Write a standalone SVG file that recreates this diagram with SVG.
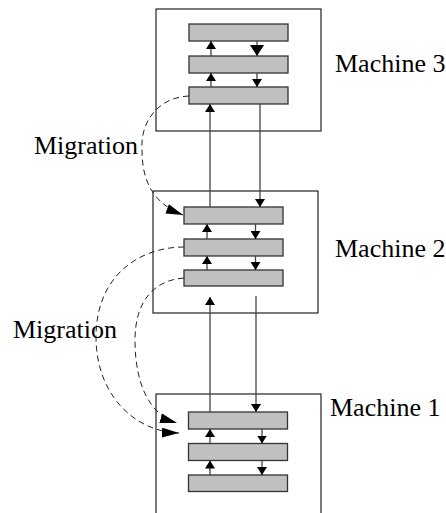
<svg xmlns="http://www.w3.org/2000/svg" width="446" height="513" viewBox="0 0 446 513">
<style>
.box{fill:#fff;stroke:#222;stroke-width:1.2}
.bar{fill:#c0c0c0;stroke:#333;stroke-width:1.3}
.ln{stroke:#444;stroke-width:1.3;fill:none}
.dash{stroke:#222;stroke-width:1;fill:none;stroke-dasharray:6,4}
.lbl{font-family:"Liberation Serif","Times New Roman",serif;font-size:26px;fill:#000}
</style>
<defs>
<marker id="ah" viewBox="0 0 8 10" refX="8" refY="5" markerWidth="8" markerHeight="10" orient="auto" markerUnits="userSpaceOnUse"><path d="M0,0 L8,5 L0,10 z" fill="#000"/></marker>
<marker id="ahb" viewBox="0 0 11 14" refX="11" refY="7" markerWidth="11" markerHeight="14" orient="auto" markerUnits="userSpaceOnUse"><path d="M0,0 L11,7 L0,14 z" fill="#000"/></marker>
<marker id="ahd" viewBox="0 0 17 10" refX="17" refY="5" markerWidth="17" markerHeight="10" orient="auto" markerUnits="userSpaceOnUse"><path d="M0,0 L17,5 L0,10 z" fill="#000"/></marker>
</defs>

<g id="machine3">
<rect class="box" x="156" y="9" width="165" height="122"/>
<rect class="bar" x="189" y="24" width="99" height="17"/>
<rect class="bar" x="189" y="56" width="99" height="17"/>
<rect class="bar" x="189" y="87" width="99" height="17"/>
<line class="ln" x1="211" y1="56" x2="211" y2="41" marker-end="url(#ah)"/>
<line class="ln" x1="257" y1="41" x2="257" y2="56" marker-end="url(#ahb)"/>
<line class="ln" x1="211" y1="87" x2="211" y2="73" marker-end="url(#ah)"/>
<line class="ln" x1="257" y1="73" x2="257" y2="87" marker-end="url(#ah)"/>
<text class="lbl" x="335" y="72">Machine 3</text>
</g>

<g id="machine2">
<rect class="box" x="153" y="191" width="165" height="122"/>
<rect class="bar" x="184" y="207" width="99" height="17"/>
<rect class="bar" x="184" y="239" width="99" height="17"/>
<rect class="bar" x="184" y="270" width="99" height="16"/>
<line class="ln" x1="207" y1="239" x2="207" y2="224" marker-end="url(#ah)"/>
<line class="ln" x1="255.5" y1="224" x2="255.5" y2="239" marker-end="url(#ah)"/>
<line class="ln" x1="207" y1="270" x2="207" y2="256" marker-end="url(#ah)"/>
<line class="ln" x1="255.5" y1="256" x2="255.5" y2="270" marker-end="url(#ah)"/>
<text class="lbl" x="335" y="257">Machine 2</text>
</g>

<g id="machine1">
<rect class="box" x="156" y="394" width="165" height="140"/>
<rect class="bar" x="188.5" y="412" width="99" height="17"/>
<rect class="bar" x="188.5" y="443.5" width="99" height="17"/>
<rect class="bar" x="188.5" y="475" width="99" height="16.5"/>
<line class="ln" x1="210" y1="443.5" x2="210" y2="429" marker-end="url(#ah)"/>
<line class="ln" x1="262" y1="429" x2="262" y2="443.5" marker-end="url(#ah)"/>
<line class="ln" x1="210" y1="475" x2="210" y2="460.5" marker-end="url(#ah)"/>
<line class="ln" x1="262" y1="460.5" x2="262" y2="475" marker-end="url(#ah)"/>
<text class="lbl" x="330" y="416">Machine 1</text>
</g>

<g id="connectors">
<line class="ln" x1="210" y1="207" x2="210" y2="104" marker-end="url(#ah)"/>
<line class="ln" x1="260" y1="104" x2="260" y2="207" marker-end="url(#ah)"/>
<line class="ln" x1="210" y1="412" x2="210" y2="297" marker-end="url(#ah)"/>
<line class="ln" x1="256" y1="296" x2="256" y2="412" marker-end="url(#ah)"/>
<path class="dash" d="M189,96 C160,97 140,120 142,150 C142,180 152,203 183,215" marker-end="url(#ahd)"/>
<path class="dash" d="M184,247 C140,247 96,275 96,337 C96,395 135,432 179,433" marker-end="url(#ahd)"/>
<path class="dash" d="M184,278 C155,280 135,300 135,340 C135,385 150,415 177,423" marker-end="url(#ahd)"/>
<text class="lbl" x="34" y="154">Migration</text>
<text class="lbl" x="13" y="338">Migration</text>
</g>
</svg>
